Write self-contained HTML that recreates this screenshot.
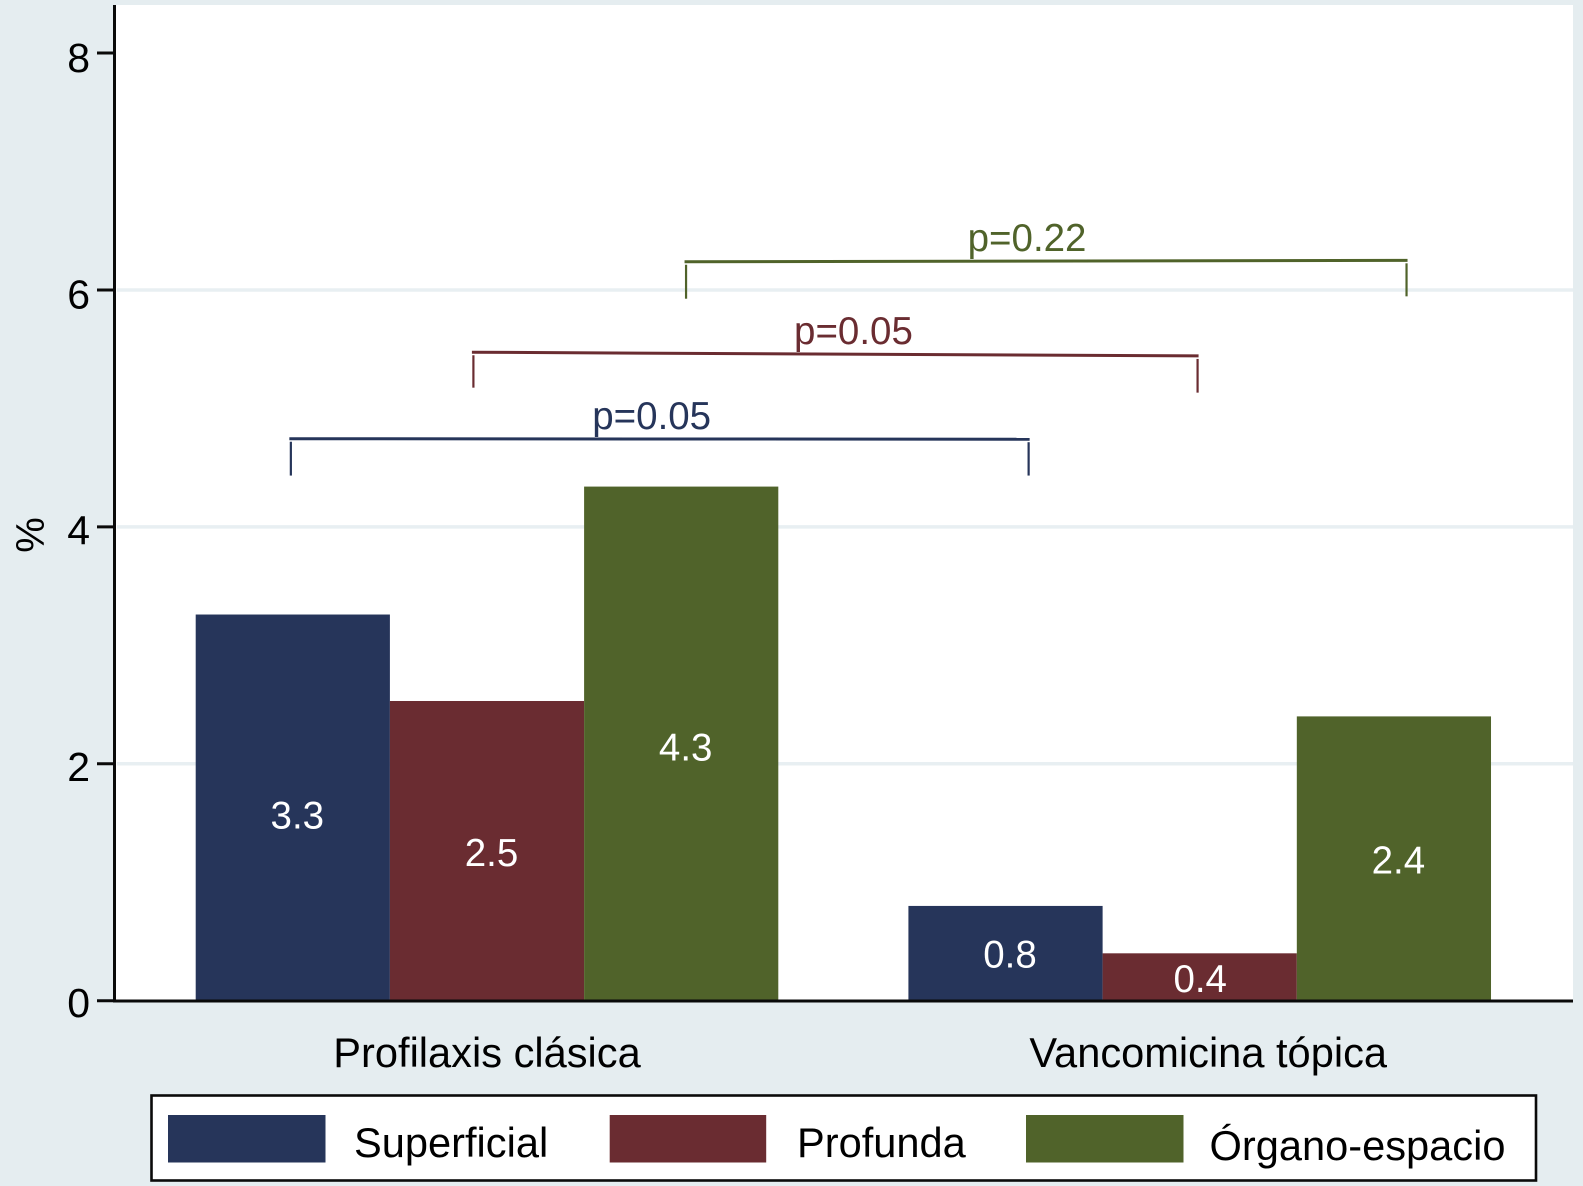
<!DOCTYPE html>
<html lang="es">
<head>
<meta charset="utf-8">
<title>Infección por tipo y profilaxis</title>
<style>
html,body{margin:0;padding:0;background:#e5edf0;}
svg{display:block;font-family:"Liberation Sans",Arial,sans-serif;}
</style>
</head>
<body>
<svg id="chart" xmlns="http://www.w3.org/2000/svg" width="1583" height="1186" viewBox="0 0 1583 1186">
  <rect x="0" y="0" width="1583" height="1186" fill="#e5edf0"/>
  <rect x="116" y="5" width="1457" height="995" fill="#ffffff"/>
  <g id="grid"></g>
  <g id="bars"></g>
  <g id="values"></g>
  <g id="brackets"></g>
  <g id="axis"></g>
  <text transform="translate(44,535) rotate(-90)" text-anchor="middle" font-size="40" fill="#000">%</text>
  <g id="categories"></g>
  <g>
    <rect x="151.5" y="1095.5" width="1384.5" height="85" fill="#fff" stroke="#0a0a0a" stroke-width="2.6"/>
    <rect x="168" y="1115" width="157.5" height="47.5" fill="#26355a"/>
    <text x="354" y="1157" font-size="41.6" fill="#000">Superficial</text>
    <rect x="609.7" y="1115" width="156.5" height="47.5" fill="#6a2c31"/>
    <text x="797" y="1157" font-size="41.6" fill="#000">Profunda</text>
    <rect x="1026" y="1115" width="157.5" height="47.5" fill="#50632a"/>
    <text x="1209.5" y="1160" font-size="41.6" fill="#000">Órgano-espacio</text>
  </g>
</svg>
<script>
const categories = ["Profilaxis clásica", "Vancomicina tópica"];
const seriesNames = ["Superficial", "Profunda", "Órgano-espacio"];
const superficial = [3.26, 0.80];
const profunda = [2.53, 0.40];
const organoEspacio = [4.34, 2.40];
const printedSuperficial = ["3.3", "0.8"];
const printedProfunda = ["2.5", "0.4"];
const printedOrgano = ["4.3", "2.4"];
const yTicks = [0, 2, 4, 6, 8];
const yGrid = [2, 4, 6];
const pLabels = ["p=0.05", "p=0.05", "p=0.22"];
const bracketStart = [0.49, 1.43, 2.525];
const bracketEnd = [4.289, 5.159, 6.235];
const bracketLevelLeft = [4.744, 5.474, 6.238];
const bracketLevelRight = [4.74, 5.443, 6.25];
const bracketFootLeft = [4.433, 5.175, 5.926];
const bracketFootRight = [4.433, 5.133, 5.946];
const pLabelAt = [2.348, 3.387, 4.281];

const seriesColors = ["#26355a", "#6a2c31", "#50632a"];
const NS = "http://www.w3.org/2000/svg";
const y = v => 1000.7 - 118.46 * v;
const x = s => 195.7 + 194.2 * s;
const GROUP_STEP = 3.67;
/* hand-placement quirks of the printed labels, relative to each bar's centre */
const labelNudge = {"0-0": [0, 4], "1-0": [0, -2], "2-0": [0, 0], "0-1": [0, -3], "1-1": [-4, -2], "2-1": [0, -2]};

function make(tag, attrs, parent, text) {
  const el = document.createElementNS(NS, tag);
  for (const k in attrs) el.setAttribute(k, attrs[k]);
  if (text !== undefined) el.textContent = text;
  parent.appendChild(el);
  return el;
}

const gridG = document.getElementById("grid");
yGrid.forEach(v => {
  const el = make("line", {x1: 117, x2: 1573, y1: y(v), y2: y(v), stroke: "#e8eff2", "stroke-width": 3.5}, gridG);
  
  
});

const barsG = document.getElementById("bars");
const valuesG = document.getElementById("values");
const allSeries = [superficial, profunda, organoEspacio];
const allPrinted = [printedSuperficial, printedProfunda, printedOrgano];
categories.forEach((cat, g) => {
  allSeries.forEach((vals, s) => {
    const left = x(g * GROUP_STEP + s);
    const right = x(g * GROUP_STEP + s + 1);
    const top = y(vals[g]);
    const rect = make("rect", {x: left, y: top, width: right - left, height: y(0) - top, fill: seriesColors[s]}, barsG);
    
    
    const nudge = labelNudge[s + "-" + g];
    const label = make("text", {
      x: (left + right) / 2 + 4.5 + nudge[0],
      y: (top + y(0)) / 2 + 17 + nudge[1],
      "text-anchor": "middle",
      "font-size": 38.5,
      fill: "#ffffff"
    }, valuesG, allPrinted[s][g]);
    
    
  });
});

const bracketsG = document.getElementById("brackets");
pLabels.forEach((txt, i) => {
  const c = seriesColors[i];
  const xl = x(bracketStart[i]), xr = x(bracketEnd[i]);
  const yl = y(bracketLevelLeft[i]), yr = y(bracketLevelRight[i]);
  const top = make("line", {x1: xl - 1.5, x2: xr + 1, y1: yl, y2: yr, stroke: c, "stroke-width": 3}, bracketsG);
  
  
  const footL = make("line", {x1: xl, x2: xl, y1: yl + 3, y2: y(bracketFootLeft[i]), stroke: c, "stroke-width": 2.2}, bracketsG);
  
  
  const footR = make("line", {x1: xr, x2: xr, y1: yr + 3, y2: y(bracketFootRight[i]), stroke: c, "stroke-width": 2.2}, bracketsG);
  
  
  const t = make("text", {
    x: x(pLabelAt[i]),
    y: (yl + yr) / 2 - 10,
    "text-anchor": "middle",
    "font-size": 38.5,
    fill: c
  }, bracketsG, txt);
  
  
});

const axisG = document.getElementById("axis");
const yAxisLine = make("line", {x1: 114.5, x2: 114.5, y1: 5, y2: y(0) + 1.5, stroke: "#0a0a0a", "stroke-width": 3}, axisG);


const xAxisLine = make("line", {x1: 113, x2: 1573, y1: y(0) + 0.3, y2: y(0) + 0.3, stroke: "#0a0a0a", "stroke-width": 3}, axisG);


yTicks.forEach(v => {
  const tick = make("line", {x1: 97, x2: 114, y1: y(v), y2: y(v), stroke: "#0a0a0a", "stroke-width": 3}, axisG);
  
  
  const lab = make("text", {x: 90, y: y(v) + 16.4 + v * 0.35, "text-anchor": "end", "font-size": 41, fill: "#000"}, axisG, String(v));
  
  
});

const catG = document.getElementById("categories");
categories.forEach((cat, g) => {
  const t = make("text", {x: x(g * GROUP_STEP + 1.5) + g * 8.5, y: 1067, "text-anchor": "middle", "font-size": 41.6, fill: "#000"}, catG, cat);
  
  
});
</script>
</body>
</html>
